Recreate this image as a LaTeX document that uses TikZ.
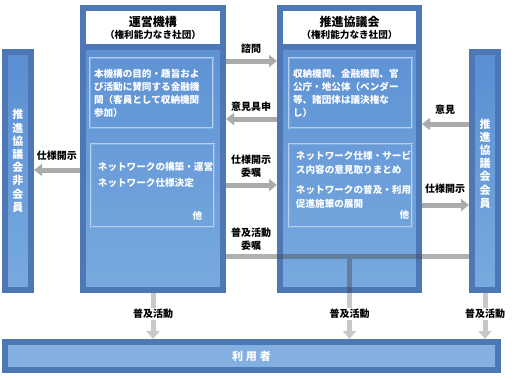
\documentclass[tikz,border=0pt]{standalone}
\usepackage{fontspec}
\setmainfont{Noto Sans CJK JP}
\usetikzlibrary{arrows.meta,positioning,calc}
\definecolor{FrameBlue}{HTML}{4E77B6}
\definecolor{TopBlue}{HTML}{5A8ED2}
\definecolor{LowBlue}{HTML}{78AADF}
\definecolor{PaleBlue}{HTML}{84B0E1}
\definecolor{SubBlue}{HTML}{82AEDF}
\definecolor{RimBlue}{HTML}{B4CFF0}
\definecolor{ArrGray}{HTML}{ABABAB}
\definecolor{DownGray}{HTML}{C8C8C8}
\definecolor{LineGray}{HTML}{484848}
\tikzset{
  orgbox/.style={draw=FrameBlue, line width=6pt, top color=TopBlue, bottom color=LowBlue,
                 inner sep=0pt},
  orghead/.style={draw=FrameBlue, line width=6pt, fill=white, inner sep=0pt, align=center,
                 minimum height=39pt, font=\bfseries\fontsize{12}{12}\selectfont},
  subbox/.style={draw=RimBlue, line width=0.5pt, double=SubBlue, double distance=1pt,
                 minimum width=123pt, inner sep=0pt, text=white, align=left, text width=115pt,
                 font=\bfseries\fontsize{9.6}{13}\selectfont},
  subtext/.style={text=white, align=left, inner sep=0pt, anchor=north west,
                 font=\bfseries\fontsize{9.6}{14}\selectfont},
  vtext/.style={text=white, align=center, inner sep=0pt, font=\bfseries\fontsize{11}{13.2}\selectfont},
  lbl/.style={align=center, inner sep=1pt, font=\bfseries\fontsize{10}{12.5}\selectfont},
  garr/.style={-{Triangle[length=8pt,width=12pt]}, line width=5pt, ArrGray},
  darr/.style={-{Triangle[length=8pt,width=13pt]}, line width=5pt, DownGray}
}
\begin{document}
\begin{tikzpicture}[x=1pt, y=-1pt]
\useasboundingbox (0,0) rectangle (515,380);
% organisations
\node[orgbox, minimum width=26pt, minimum height=238pt] (hikaiin) at (18,171) {};
\node[orgbox, minimum width=140pt, minimum height=282pt] (kiko) at (153,149) {};
\node[orgbox, minimum width=139pt, minimum height=282pt] (kyogi) at (349.5,149) {};
\node[orgbox, minimum width=26pt, minimum height=238pt] (kaiin) at (485,171) {};
\node[draw=FrameBlue, line width=6pt, fill=PaleBlue, minimum width=493pt, minimum height=28pt,
      text=white, font=\bfseries\fontsize{11}{11}\selectfont] (user) at (251.5,356)
      {利\hspace{3pt}用\hspace{3pt}者};

\node[orghead, minimum width=140pt, anchor=north] (kikohead) at (kiko.north)
  {運営機構\\{\fontsize{9.6}{12}\selectfont （権利能力なき社団）}};
\node[orghead, minimum width=139pt, anchor=north] (kyogihead) at (kyogi.north)
  {推進協議会\\{\fontsize{9.6}{12}\selectfont （権利能力なき社団）}};

\node[vtext] (hikaiintxt) at (hikaiin.center |- 0,161) {推\\進\\協\\議\\会\\非\\会\\員};
\node[vtext] (kaiintxt) at (kaiin.center |- 0,163.5) {推\\進\\協\\議\\会\\会\\員};

% inner boxes
\node[subbox, minimum height=70pt] (kikosub1) at (151.5,93)
  {本機構の目的・趣旨およ\\び活動に賛同する金融機\\関（客員として収納機関\\参加）};
\node[subbox, minimum height=83pt] (kikosub2) at (152.5,185.5) {};
\node[subtext] (kikotxt) at ([xshift=7pt,yshift=-18pt]kikosub2.north west)
  {ネットワークの構築・運営\\[2pt]ネットワーク仕様決定};
\node[subtext] (kikoetc) at (197.5,216) [anchor=center] {他};

\node[subbox, minimum height=70pt] (kyogisub1) at (350.5,93)
  {収納機関、金融機関、官\\公庁・地公体（ベンダー\\等、諸団体は議決権な\\し）};
\node[subbox, minimum height=83pt] (kyogisub2) at (350.5,185.5) {};
\node[subtext] (kyogitxt) at ([xshift=7pt,yshift=-7pt]kyogisub2.north west)
  {ネットワーク仕様・サービ\\ス内容の意見取りまとめ\\[6pt]ネットワークの普及・利用\\促進施策の展開};
\node[subtext] (kyogietc) at (404.5,215) [anchor=center] {他};

% connectors
\draw[garr] (kiko.east |- 0,61) -- (kyogi.west |- 0,61);
\node[lbl] (shimon) at (251,49) {諮問};
\draw[garr] (kyogi.west |- 0,119) -- (kiko.east |- 0,119);
\node[lbl] (ikengushin) at (251,107) {意見具申};
\draw[garr] (kiko.east |- 0,185) -- (kyogi.west |- 0,185);
\node[lbl] (shiyoishoku) at (251,166) {仕様開示\\委嘱};
\draw[garr] (kaiin.west |- 0,124) -- (kyogi.east |- 0,124);
\node[lbl] (iken) at (445,110) {意見};
\draw[garr] (kyogi.east |- 0,205) -- (kaiin.west |- 0,205);
\node[lbl] (shiyokaiin) at (445,189) {仕様開示};
\draw[garr] (kiko.west |- 0,170) -- (hikaiin.east |- 0,170);
\node[lbl] (shiyohikaiin) at (57,156) {仕様開示};

\draw[line width=5pt, LineGray, opacity=0.43] (kiko.east |- 0,256) -- (kaiin.west |- 0,256)
  (kyogi.center |- 0,256) -- (kyogi.south);
\node[lbl] (fukyuishoku) at (251,239) {普及活動\\委嘱};

\draw[darr] (kiko.south) -- (kiko.south |- user.north);
\draw[darr] (kyogi.south) -- (kyogi.south |- user.north);
\draw[darr] (kaiin.south) -- (kaiin.south |- user.north);
\node[lbl, fill=white] (kikofukyu) at (kiko.south |- 0,314) {普及活動};
\node[lbl, fill=white] (kyogifukyu) at (kyogi.south |- 0,314) {普及活動};
\node[lbl, fill=white] (kaiinfukyu) at (kaiin.south |- 0,314) {普及活動};
\end{tikzpicture}
\end{document}
